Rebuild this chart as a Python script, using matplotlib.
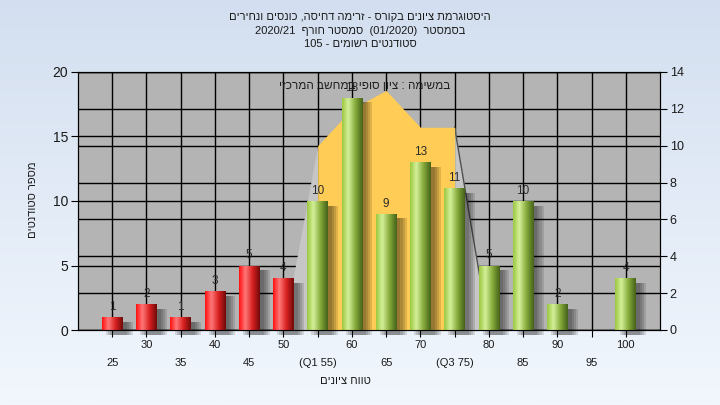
import re
import numpy as np
import matplotlib
matplotlib.use('Agg')
import matplotlib.pyplot as plt
from matplotlib.colors import LinearSegmentedColormap

plt.rcParams['font.family'] = ['Liberation Sans', 'DejaVu Sans']

# data
grades = [25, 30, 35, 40, 45, 50, 55, 60, 65, 70, 75, 80, 85, 90, 95, 100]
tick_labels = ['25', '30', '35', '40', '45', '50', '(Q1 55)', '60', '65', '70',
               '(Q3 75)', '80', '85', '90', '95', '100']
counts = [1, 2, 1, 3, 5, 4, 10, 18, 9, 13, 11, 5, 10, 2, 0, 4]
fail_limit = 55  # bars below this are red

# area series (right axis), grades 50..80
area_grades = [50, 55, 60, 65, 70, 75, 80]
area_values = [0, 10, 12, 13, 11, 11, 0]

title_lines = ['היסטוגרמת ציונים בקורס - זרימה דחיסה, כונסים ונחירים',
               'בסמסטר  (01/2020)  סמסטר חורף  2020/21',
               'סטודנטים רשומים - 105']
area_label = 'במשימה : ציון סופי במחשב המרכזי'
xlabel = 'טווח ציונים'
ylabel = 'מספר סטודנטים'


def heb(s):
    # crude logical -> visual order for right-to-left text
    tokens = re.findall(r'[A-Za-z0-9/.]+|[^A-Za-z0-9/.]', s)
    mirror = {'(': ')', ')': '('}
    out = []
    for t in reversed(tokens):
        if re.match(r'[A-Za-z0-9/.]', t):
            out.append(t)
        else:
            out.append(mirror.get(t, t))
    return ''.join(out)


fig = plt.figure(figsize=(7.2, 4.05), dpi=100)

# figure background gradient
bg = fig.add_axes([0, 0, 1, 1], zorder=-5)
bg_cmap = LinearSegmentedColormap.from_list('bg', ['#d3dff0', '#f2f7fd'])
bg.imshow(np.linspace(0, 1, 256).reshape(-1, 1), cmap=bg_cmap, aspect='auto',
          extent=[0, 1, 0, 1])
bg.set_axis_off()

pos = [78 / 720, 1 - 330 / 405, (660 - 78) / 720, (330 - 72) / 405]
ax2 = fig.add_axes(pos, zorder=0)
ax = fig.add_axes(pos, zorder=1)
ax.patch.set_visible(False)
ax2.set_facecolor('#b4b4b4')

x = np.arange(1, len(grades) + 1)
xpos = dict(zip(grades, x))

ax.set_xlim(0, 17)
ax.set_ylim(0, 20)
ax2.set_xlim(0, 17)
ax2.set_ylim(0, 14)

# grids (both axes), under everything
ax2.set_yticks(range(0, 15, 2))
ax2.grid(axis='y', color='black', lw=1)
ax2.set_xticks([])
ax.set_yticks(range(0, 21, 5))
ax.set_xticks(x)
ax.set_xticklabels([])
ax.grid(True, color='black', lw=1, zorder=0.5)
ax.set_axisbelow(True)

# area series on right scale, drawn inside ax so bars sit on top of it
ax_x = [xpos[g] for g in area_grades]
ax.fill_between(ax_x[:2], area_values[:2], color='#c6c6c6', lw=0, zorder=1,
                transform=ax2.transData)
ax.fill_between(ax_x[-2:], area_values[-2:], color='#c6c6c6', lw=0, zorder=1,
                transform=ax2.transData)
ax.plot(ax_x[-2:], area_values[-2:], color='#505050', lw=1, zorder=1.1,
        transform=ax2.transData)
ax.fill_between(ax_x[1:-1], area_values[1:-1], color='#ffcc55', lw=0, zorder=1.2,
                transform=ax2.transData)

# bars with cylinder shading and soft shadow
red_cmap = LinearSegmentedColormap.from_list(
    'r', [(0, '#ff1010'), (0.3, '#ff7878'), (0.65, '#d82020'), (1, '#700a0a')])
green_cmap = LinearSegmentedColormap.from_list(
    'g', [(0, '#9cc840'), (0.3, '#d4f09a'), (0.65, '#86aa3a'), (1, '#45621a')])
grad = np.linspace(0, 1, 64).reshape(1, -1)
w = 0.6
for s in [0.12, 0.18, 0.24, 0.30]:
    ax.bar(x + s, counts, w, bottom=-0.35, color='black', alpha=0.12, lw=0,
           zorder=1.5, clip_on=False)
bars = ax.bar(x, counts, w, color='none', lw=0, zorder=2)
for g, b in zip(grades, bars):
    if b.get_height() <= 0:
        continue
    cm = red_cmap if g < fail_limit else green_cmap
    im = ax.imshow(grad, cmap=cm, aspect='auto', zorder=2,
                   extent=[b.get_x(), b.get_x() + b.get_width(), 0, b.get_height()])
    im.set_clip_path(b)
ax.set_xlim(0, 17)
ax.set_ylim(0, 20)

for xi, v in zip(x, counts):
    if v > 0:
        ax.annotate(str(v), (xi, v), xytext=(0, 3), textcoords='offset points',
                    ha='center', va='bottom', fontsize=8.5, color='#2a2a2a', zorder=3)

fig.text(365 / 720, 1 - 86 / 405, heb(area_label), ha='center', va='center',
         fontsize=8.5, color='#202020', zorder=5)

# ticks and labels
for a in (ax, ax2):
    for sp in a.spines.values():
        sp.set_color('black')
ax.tick_params(axis='y', direction='out', length=5, color='black', labelsize=10,
               labelcolor='#1a1a1a', pad=2)
ax.tick_params(axis='x', direction='out', length=5, color='black')
ax2.yaxis.tick_right()
ax2.tick_params(axis='y', direction='out', length=5, color='black', labelsize=9,
                labelcolor='#1a1a1a', pad=2)

for i, (xi, lab) in enumerate(zip(x, tick_labels)):
    off = -11 if i % 2 == 1 else -23.5
    ax.annotate(lab, (xi, 0), xytext=(0, off), textcoords='offset points',
                xycoords=('data', 'axes fraction'), ha='center', va='center',
                fontsize=8, color='#1a1a1a', annotation_clip=False)

for i, line in enumerate(title_lines):
    fig.text(0.5, 1 - (17 + 13.5 * i) / 405, heb(line), ha='center', va='center',
             fontsize=8, color='#1a1a1a')

fig.text(345 / 720, 1 - 381 / 405, heb(xlabel), ha='center', va='center',
         fontsize=8, color='#1a1a1a')
fig.text(33 / 720, 1 - 200 / 405, heb(ylabel), ha='center', va='center',
         rotation=90, fontsize=8, color='#1a1a1a')

fig.savefig('out.png', dpi=100)
